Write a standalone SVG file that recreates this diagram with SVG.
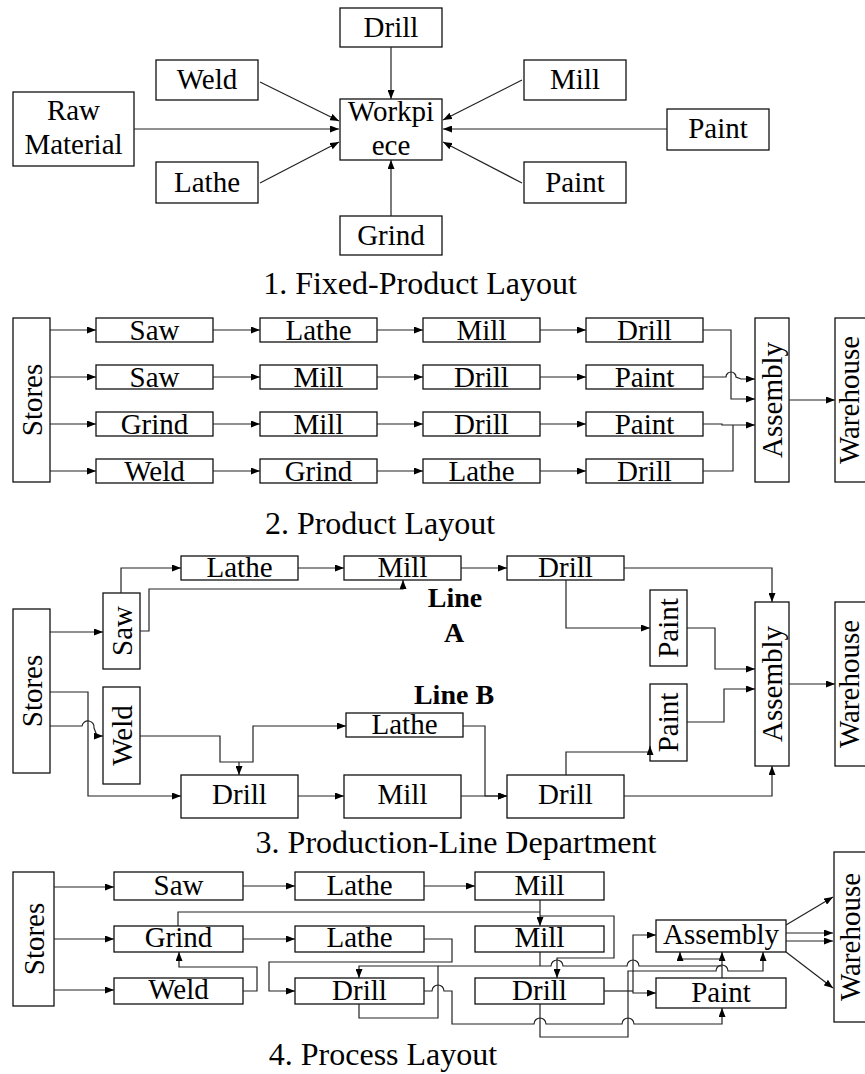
<svg xmlns="http://www.w3.org/2000/svg" width="865" height="1074" viewBox="0 0 865 1074">
<defs>
<marker id="ah" markerUnits="userSpaceOnUse" markerWidth="9" markerHeight="7" viewBox="0 0 9 7" refX="9" refY="3.5" orient="auto"><path d="M0,0L9,3.5L0,7z" fill="#000"/></marker>
<style>
rect{fill:#fff;stroke:#111;stroke-width:1.3}
text{font-family:"Liberation Serif","Times New Roman",serif;font-size:29px;fill:#000;text-anchor:middle}
.cap{font-size:32px}
.b{font-weight:bold;font-size:28px}
#connectors path{fill:none;stroke:#222;stroke-width:1.2}
.a{marker-end:url(#ah)}
</style>
</defs>
<rect x="0" y="0" width="865" height="1074" style="fill:#fff;stroke:none"/>

<!-- Section 1 -->
<g id="s1-drill"><rect x="340" y="8" width="102" height="39"/><text x="391" y="37">Drill</text></g>
<g id="s1-weld"><rect x="156" y="60" width="102" height="40"/><text x="207" y="89">Weld</text></g>
<g id="s1-mill"><rect x="524" y="60" width="102" height="40"/><text x="575" y="89">Mill</text></g>
<g id="s1-raw"><rect x="13" y="92" width="121" height="74"/><text x="73.5" y="120">Raw</text><text x="73.5" y="154">Material</text></g>
<g id="s1-workpiece"><rect x="340" y="99" width="102" height="61"/><text x="391" y="121">Workpi</text><text x="391" y="155">ece</text></g>
<g id="s1-paint1"><rect x="667" y="109" width="102" height="41"/><text x="718" y="138">Paint</text></g>
<g id="s1-lathe"><rect x="156" y="162" width="102" height="41"/><text x="207" y="192">Lathe</text></g>
<g id="s1-paint2"><rect x="524" y="162" width="102" height="41"/><text x="575" y="192">Paint</text></g>
<g id="s1-grind"><rect x="340" y="216" width="102" height="39"/><text x="391" y="245">Grind</text></g>
<text class="cap" x="420" y="294">1. Fixed-Product Layout</text>

<!-- Section 2 -->
<g id="s2-stores"><rect x="13" y="318" width="37" height="164"/><text transform="translate(42,400) rotate(-90)">Stores</text></g>
<g id="s2-r1c1"><rect x="96" y="318" width="117" height="24"/><text x="154.5" y="340">Saw</text></g>
<g id="s2-r1c2"><rect x="260" y="318" width="117" height="24"/><text x="318.5" y="340">Lathe</text></g>
<g id="s2-r1c3"><rect x="423" y="318" width="117" height="24"/><text x="481.5" y="340">Mill</text></g>
<g id="s2-r1c4"><rect x="586" y="318" width="117" height="24"/><text x="644.5" y="340">Drill</text></g>
<g id="s2-r2c1"><rect x="96" y="365" width="117" height="24"/><text x="154.5" y="387">Saw</text></g>
<g id="s2-r2c2"><rect x="260" y="365" width="117" height="24"/><text x="318.5" y="387">Mill</text></g>
<g id="s2-r2c3"><rect x="423" y="365" width="117" height="24"/><text x="481.5" y="387">Drill</text></g>
<g id="s2-r2c4"><rect x="586" y="365" width="117" height="24"/><text x="644.5" y="387">Paint</text></g>
<g id="s2-r3c1"><rect x="96" y="412" width="117" height="24"/><text x="154.5" y="434">Grind</text></g>
<g id="s2-r3c2"><rect x="260" y="412" width="117" height="24"/><text x="318.5" y="434">Mill</text></g>
<g id="s2-r3c3"><rect x="423" y="412" width="117" height="24"/><text x="481.5" y="434">Drill</text></g>
<g id="s2-r3c4"><rect x="586" y="412" width="117" height="24"/><text x="644.5" y="434">Paint</text></g>
<g id="s2-r4c1"><rect x="96" y="459" width="117" height="24"/><text x="154.5" y="481">Weld</text></g>
<g id="s2-r4c2"><rect x="260" y="459" width="117" height="24"/><text x="318.5" y="481">Grind</text></g>
<g id="s2-r4c3"><rect x="423" y="459" width="117" height="24"/><text x="481.5" y="481">Lathe</text></g>
<g id="s2-r4c4"><rect x="586" y="459" width="117" height="24"/><text x="644.5" y="481">Drill</text></g>
<g id="s2-assembly"><rect x="755" y="318" width="34" height="164"/><text transform="translate(782,400) rotate(-90)">Assembly</text></g>
<g id="s2-warehouse"><rect x="835" y="318" width="36" height="164"/><text transform="translate(859,400) rotate(-90)">Warehouse</text></g>
<text class="cap" x="380" y="534">2. Product Layout</text>

<!-- Section 3 -->
<g id="s3-stores"><rect x="13" y="609" width="37" height="164"/><text transform="translate(42,691) rotate(-90)">Stores</text></g>
<g id="s3-saw"><rect x="103" y="593" width="37" height="76"/><text transform="translate(132,631) rotate(-90)">Saw</text></g>
<g id="s3-weld"><rect x="103" y="687" width="37" height="97"/><text transform="translate(132,735.5) rotate(-90)">Weld</text></g>
<g id="s3-latheA"><rect x="181" y="556" width="117" height="24"/><text x="239.5" y="577">Lathe</text></g>
<g id="s3-millA"><rect x="344" y="556" width="117" height="24"/><text x="402.5" y="577">Mill</text></g>
<g id="s3-drillA"><rect x="507" y="556" width="117" height="24"/><text x="565.5" y="577">Drill</text></g>
<g id="s3-paint1"><rect x="650" y="590" width="37" height="76"/><text transform="translate(678,628) rotate(-90)">Paint</text></g>
<g id="s3-paint2"><rect x="650" y="684" width="37" height="77"/><text transform="translate(678,722.5) rotate(-90)">Paint</text></g>
<g id="s3-assembly"><rect x="755" y="602" width="34" height="164"/><text transform="translate(782,684) rotate(-90)">Assembly</text></g>
<g id="s3-warehouse"><rect x="835" y="602" width="36" height="164"/><text transform="translate(859,684) rotate(-90)">Warehouse</text></g>
<g id="s3-latheB"><rect x="346" y="713" width="117" height="24"/><text x="404.5" y="734">Lathe</text></g>
<g id="s3-drillB1"><rect x="181" y="775" width="117" height="43"/><text x="239.5" y="804">Drill</text></g>
<g id="s3-millB"><rect x="344" y="775" width="117" height="43"/><text x="402.5" y="804">Mill</text></g>
<g id="s3-drillB2"><rect x="507" y="775" width="117" height="43"/><text x="565.5" y="804">Drill</text></g>
<g id="s3-lineA"><text class="b" x="455" y="607">Line</text><text class="b" x="454" y="642">A</text></g>
<g id="s3-lineB"><text class="b" x="454" y="704">Line B</text></g>
<text class="cap" x="456" y="853">3. Production-Line Department</text>

<!-- Section 4 -->
<g id="s4-stores"><rect x="13" y="872" width="41" height="134"/><text transform="translate(44,939) rotate(-90)">Stores</text></g>
<g id="s4-saw"><rect x="114" y="872" width="129" height="28"/><text x="178.5" y="895">Saw</text></g>
<g id="s4-lathe1"><rect x="295" y="872" width="129" height="28"/><text x="359.5" y="895">Lathe</text></g>
<g id="s4-mill1"><rect x="475" y="872" width="129" height="28"/><text x="539.5" y="895">Mill</text></g>
<g id="s4-grind"><rect x="114" y="926" width="129" height="26"/><text x="178.5" y="947">Grind</text></g>
<g id="s4-lathe2"><rect x="295" y="926" width="129" height="26"/><text x="359.5" y="947">Lathe</text></g>
<g id="s4-mill2"><rect x="475" y="926" width="129" height="26"/><text x="539.5" y="947">Mill</text></g>
<g id="s4-weld"><rect x="114" y="978" width="129" height="26"/><text x="178.5" y="999">Weld</text></g>
<g id="s4-drill1"><rect x="295" y="978" width="129" height="26"/><text x="359.5" y="1000">Drill</text></g>
<g id="s4-drill2"><rect x="475" y="978" width="129" height="26"/><text x="539.5" y="1000">Drill</text></g>
<g id="s4-assembly"><rect x="656" y="920" width="130" height="32"/><text x="721" y="944">Assembly</text></g>
<g id="s4-paint"><rect x="656" y="978" width="130" height="30"/><text x="721" y="1002">Paint</text></g>
<g id="s4-warehouse"><rect x="834" y="852" width="40" height="170"/><text transform="translate(860,937) rotate(-90)">Warehouse</text></g>
<text class="cap" x="383" y="1065">4. Process Layout</text>

<g id="connectors">
<!-- s1 -->
<path class="a" d="M391,47V99"/>
<path class="a" d="M260,82L339,121"/>
<path class="a" d="M522,80L443,120"/>
<path class="a" d="M134,129H339"/>
<path class="a" d="M667,129H443"/>
<path class="a" d="M260,183L339,142"/>
<path class="a" d="M522,183L443,142"/>
<path class="a" d="M391,216V160"/>
<!-- s2 -->
<path class="a" d="M50,330H96"/><path class="a" d="M50,377H96"/><path class="a" d="M50,424H96"/><path class="a" d="M50,471H96"/>
<path class="a" d="M213,330H260"/><path class="a" d="M213,377H260"/><path class="a" d="M213,424H260"/><path class="a" d="M213,471H260"/>
<path class="a" d="M377,330H423"/><path class="a" d="M377,377H423"/><path class="a" d="M377,424H423"/><path class="a" d="M377,471H423"/>
<path class="a" d="M540,330H586"/><path class="a" d="M540,377H586"/><path class="a" d="M540,424H586"/><path class="a" d="M540,471H586"/>
<path class="a" d="M703,330H731V399H755"/>
<path class="a" d="M703,377H726A5,5 0 0 1 736,377L741,379H755"/>
<path class="a" d="M703,424H722V425H755"/>
<path d="M703,471H733V425"/>
<path class="a" d="M789,400H835"/>
<!-- s3 -->
<path class="a" d="M50,632H103"/>
<path class="a" d="M121,593V568H181"/>
<path class="a" d="M140,631H149V589H403V580"/>
<path class="a" d="M298,568H344"/>
<path class="a" d="M461,568H507"/>
<path class="a" d="M624,568H772V602"/>
<path class="a" d="M566,580V628H650"/>
<path class="a" d="M687,628H715V669H755"/>
<path class="a" d="M687,722H724V689H755"/>
<path class="a" d="M789,684H835"/>
<path class="a" d="M50,726H82A6,6 0 0 1 94,728L97,736H103"/>
<path class="a" d="M50,692H88V796H181"/>
<path class="a" d="M140,736H220V762H253V726H346"/>
<path class="a" d="M239,762V775"/>
<path class="a" d="M463,726H485V796H507"/>
<path class="a" d="M298,796H344"/>
<path class="a" d="M461,796H507"/>
<path class="a" d="M566,775V752H650V746"/>
<path class="a" d="M624,796H772V766"/>
<!-- s4 -->
<path class="a" d="M54,887H114"/>
<path class="a" d="M54,939H114"/>
<path class="a" d="M54,990H114"/>
<path class="a" d="M243,886H295"/>
<path class="a" d="M424,886H475"/>
<path class="a" d="M243,939H295"/>
<path class="a" d="M243,991H257V967H179V952"/>
<path d="M178,926V912H540"/>
<path class="a" d="M540,900V926"/>
<path class="a" d="M540,916H614V958H557V978"/>
<path class="a" d="M424,939H452V962H269V991H295"/>
<path class="a" d="M359,1004V1018H438V966H359V978"/>
<path d="M438,966H551A6,6 0 0 1 563,966H627A6,6 0 0 1 639,966H722"/>
<path d="M540,952V966"/>
<path class="a" d="M540,1004V1037H628V971H716A6,6 0 0 1 728,971H763V952"/>
<path class="a" d="M722,978V952"/>
<path class="a" d="M722,959H680V952"/>
<path class="a" d="M424,991H432A6,6 0 0 1 444,991H452V1024H534A6,6 0 0 1 546,1024H622A6,6 0 0 1 634,1024H722V1008"/>
<path d="M604,991H633"/>
<path class="a" d="M633,991V935H656"/>
<path class="a" d="M633,991V993H656"/>
<path class="a" d="M786,925L833,897"/>
<path class="a" d="M786,933H833"/>
<path class="a" d="M786,941H833"/>
<path class="a" d="M786,952L833,988"/>
</g>
</svg>
